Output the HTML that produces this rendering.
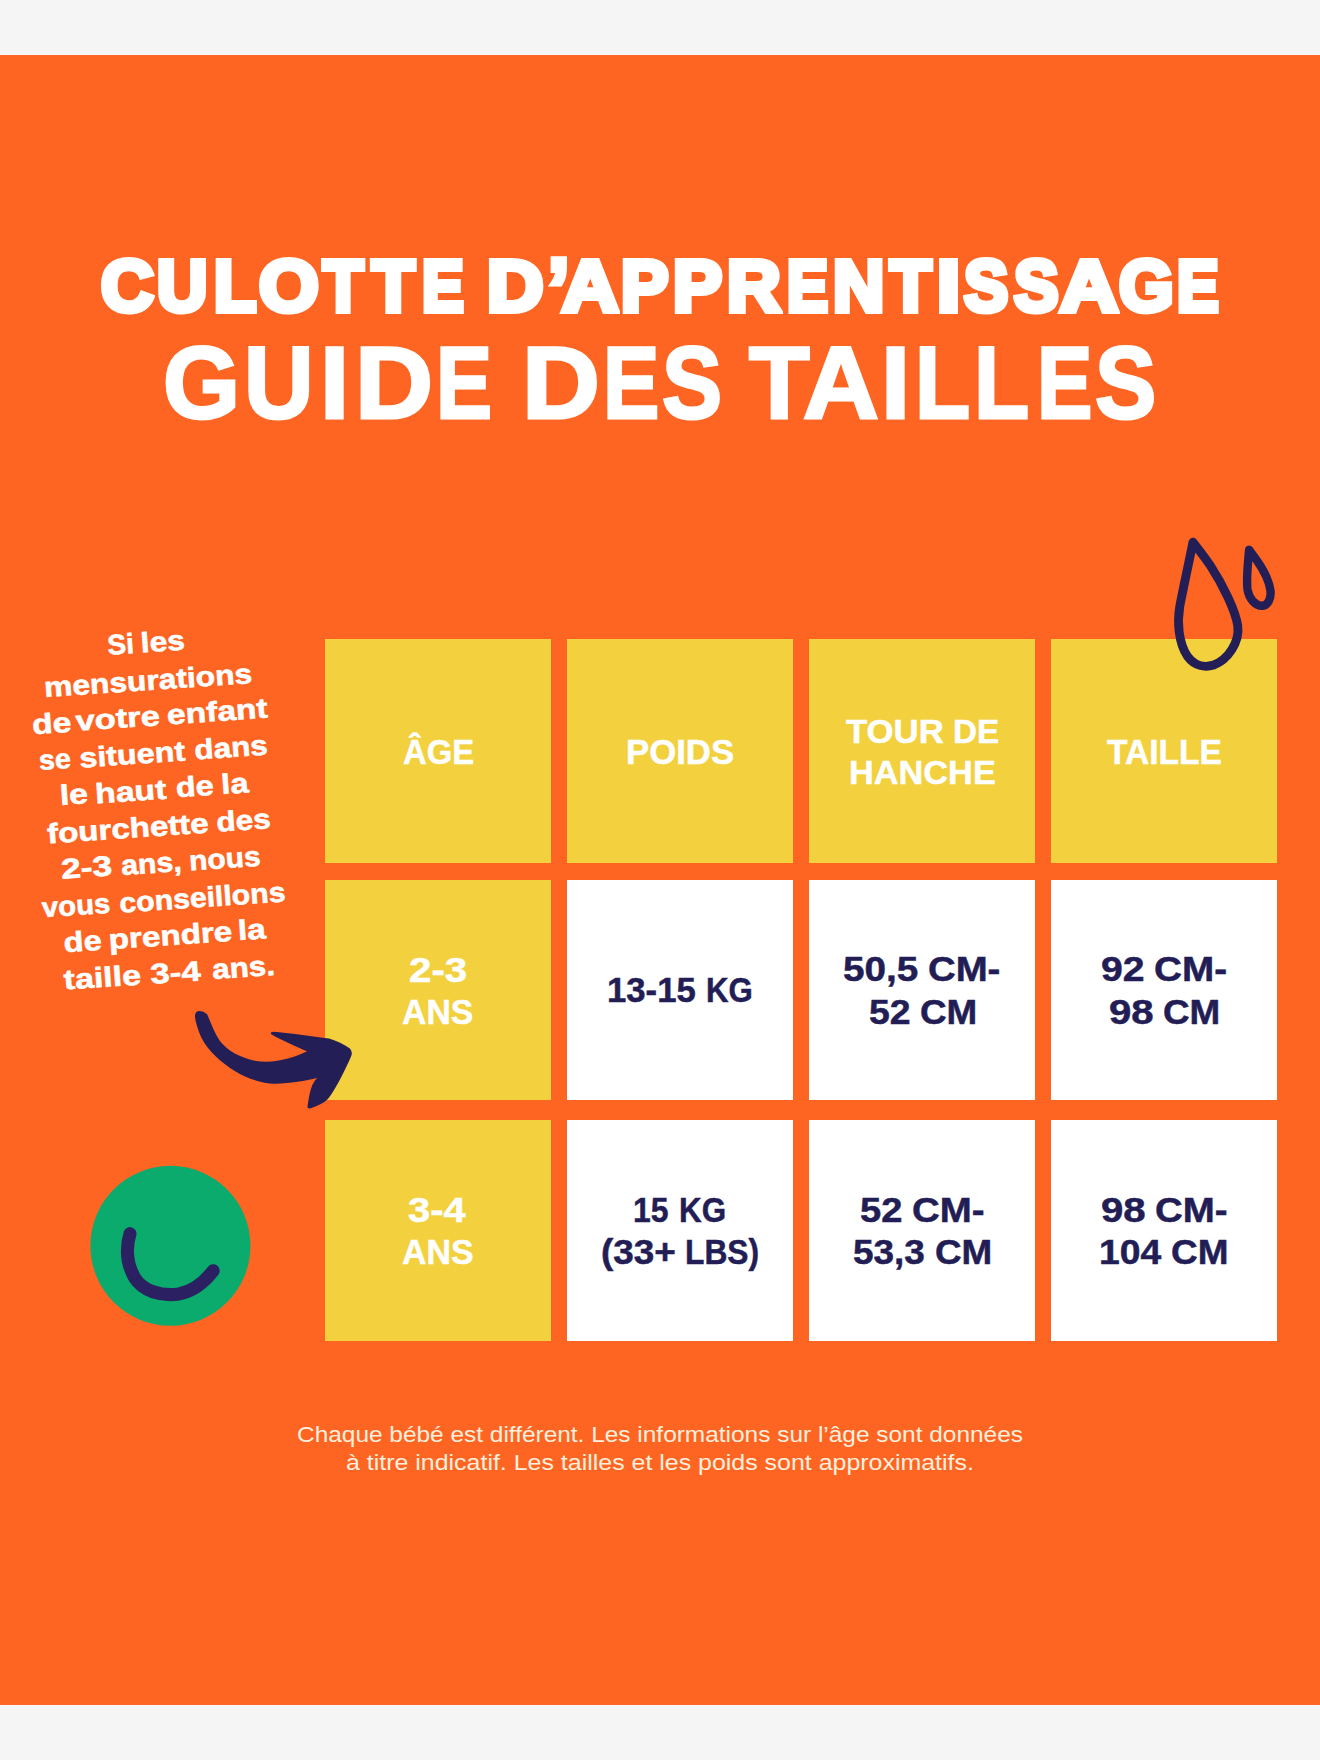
<!DOCTYPE html>
<html lang="fr">
<head>
<meta charset="utf-8">
<title>Culotte d’apprentissage – Guide des tailles</title>
<style>
  html,body{margin:0;padding:0;}
  body{width:1320px;height:1760px;background:#f5f5f5;overflow:hidden;font-family:"Liberation Sans",sans-serif;}
  #page{position:relative;width:1320px;height:1760px;overflow:hidden;background:#f5f5f5;}
  #poster{position:absolute;left:0;top:55px;width:1320px;height:1650px;background:#fe6523;}
  .t{position:absolute;white-space:nowrap;line-height:1em;font-weight:bold;transform-origin:0 0;font-family:"Liberation Sans",sans-serif;}
  .w{color:#fff;}
  .n{color:#221e55;}
  .s1{-webkit-text-stroke:6px #fff;paint-order:stroke fill;}
  .s2{-webkit-text-stroke:3px #fff;paint-order:stroke fill;}
  .w.st{-webkit-text-stroke:0.5px #fff;}
  .n.st{-webkit-text-stroke:0.5px #221e55;}
  .ss{-webkit-text-stroke:0.6px #fff;}
  .f{color:#fff0de;font-weight:normal;}
  .cell{position:absolute;width:226px;}
  .y{background:#f3d03e;}
  .wh{background:#fff;}
  .r1{top:638.6px;height:224.6px;}
  .r2{top:879.6px;height:220.6px;}
  .r3{top:1119.6px;height:221.2px;}
  .c1{left:325px;} .c2{left:567px;} .c3{left:809px;} .c4{left:1051.2px;}
  svg{position:absolute;left:0;top:0;}
</style>
</head>
<body>
<div id="page">
<div id="poster"></div>

<!-- table cells -->
<div class="cell y r1 c1"></div><div class="cell y r1 c2"></div><div class="cell y r1 c3"></div><div class="cell y r1 c4"></div>
<div class="cell y r2 c1"></div><div class="cell wh r2 c2"></div><div class="cell wh r2 c3"></div><div class="cell wh r2 c4"></div>
<div class="cell y r3 c1"></div><div class="cell wh r3 c2"></div><div class="cell wh r3 c3"></div><div class="cell wh r3 c4"></div>

<!-- title -->
<div class="title">
<span class="t w s1" style="left:100.83px;top:251px;font-size:71.80px;transform:scaleX(1.0151);">C</span>
<span class="t w s1" style="left:157.39px;top:251px;font-size:71.80px;transform:scaleX(0.9706);">U</span>
<span class="t w s1" style="left:213.81px;top:251px;font-size:71.80px;transform:scaleX(0.9633);">L</span>
<span class="t w s1" style="left:259.23px;top:251px;font-size:71.80px;transform:scaleX(1.0679);">O</span>
<span class="t w s1" style="left:323.17px;top:251px;font-size:71.80px;transform:scaleX(0.9178);">T</span>
<span class="t w s1" style="left:371.99px;top:251px;font-size:71.80px;transform:scaleX(0.9716);">T</span>
<span class="t w s1" style="left:421.68px;top:251px;font-size:71.80px;transform:scaleX(0.8712);">E</span>
 
<span class="t w s1" style="left:487.20px;top:251px;font-size:71.80px;transform:scaleX(1.0873);">D</span>
<span class="t w s1" style="left:548.00px;top:247px;font-size:84.96px;transform:scaleX(0.9103);">’</span>
<span class="t w s1" style="left:562.06px;top:251px;font-size:71.80px;transform:scaleX(1.0894);">A</span>
<span class="t w s1" style="left:621.47px;top:251px;font-size:71.80px;transform:scaleX(0.9904);">P</span>
<span class="t w s1" style="left:673.41px;top:251px;font-size:71.80px;transform:scaleX(1.0225);">P</span>
<span class="t w s1" style="left:726.79px;top:251px;font-size:71.80px;transform:scaleX(1.0344);">R</span>
<span class="t w s1" style="left:787.40px;top:251px;font-size:71.80px;transform:scaleX(0.8561);">E</span>
<span class="t w s1" style="left:833.27px;top:251px;font-size:71.80px;transform:scaleX(0.9886);">N</span>
<span class="t w s1" style="left:890.22px;top:251px;font-size:71.80px;transform:scaleX(0.9406);">T</span>
<span class="t w s1" style="left:937.07px;top:251px;font-size:71.80px;transform:scaleX(1.1576);">I</span>
<span class="t w s1" style="left:963.72px;top:251px;font-size:71.80px;transform:scaleX(0.9221);">S</span>
<span class="t w s1" style="left:1013.63px;top:251px;font-size:71.80px;transform:scaleX(0.9282);">S</span>
<span class="t w s1" style="left:1059.70px;top:251px;font-size:71.80px;transform:scaleX(1.1207);">A</span>
<span class="t w s1" style="left:1119.22px;top:251px;font-size:71.80px;transform:scaleX(0.9761);">G</span>
<span class="t w s1" style="left:1176.78px;top:251px;font-size:71.80px;transform:scaleX(0.8690);">E</span>
</div>
<div class="title">
<span class="t w s2" style="left:163.46px;top:332px;font-size:102.47px;transform:scaleX(0.9661);">G</span>
<span class="t w s2" style="left:244.26px;top:332px;font-size:102.47px;transform:scaleX(0.9390);">U</span>
<span class="t w s2" style="left:319.63px;top:332px;font-size:102.47px;transform:scaleX(1.0238);">I</span>
<span class="t w s2" style="left:354.86px;top:332px;font-size:102.47px;transform:scaleX(1.0545);">D</span>
<span class="t w s2" style="left:436.00px;top:332px;font-size:102.47px;transform:scaleX(0.8198);">E</span>
 
<span class="t w s2" style="left:521.77px;top:332px;font-size:102.47px;transform:scaleX(1.0530);">D</span>
<span class="t w s2" style="left:603.38px;top:332px;font-size:102.47px;transform:scaleX(0.8231);">E</span>
<span class="t w s2" style="left:662.39px;top:332px;font-size:102.47px;transform:scaleX(0.8791);">S</span>
 
<span class="t w s2" style="left:749.06px;top:332px;font-size:102.47px;transform:scaleX(0.9685);">T</span>
<span class="t w s2" style="left:803.08px;top:332px;font-size:102.47px;transform:scaleX(1.0240);">A</span>
<span class="t w s2" style="left:880.53px;top:332px;font-size:102.47px;transform:scaleX(1.0238);">I</span>
<span class="t w s2" style="left:915.38px;top:332px;font-size:102.47px;transform:scaleX(0.8807);">L</span>
<span class="t w s2" style="left:973.98px;top:332px;font-size:102.47px;transform:scaleX(0.8807);">L</span>
<span class="t w s2" style="left:1037.05px;top:332px;font-size:102.47px;transform:scaleX(0.8099);">E</span>
<span class="t w s2" style="left:1095.47px;top:332px;font-size:102.47px;transform:scaleX(0.8961);">S</span>
</div>

<!-- table text -->
<span class="t w st" style="left:402.52px;top:735px;font-size:34.45px;transform:scaleX(0.9532);">ÂGE</span>
<span class="t w st" style="left:625.98px;top:735px;font-size:34.45px;transform:scaleX(1.0091);">POIDS</span>
<span class="t w st" style="left:846.47px;top:714px;font-size:34.01px;transform:scaleX(1.0208);">TOUR</span>
<span class="t w st" style="left:952.95px;top:714px;font-size:34.01px;transform:scaleX(0.9763);">DE</span>
<span class="t w st" style="left:849.38px;top:755px;font-size:34.01px;transform:scaleX(1.0091);">HANCHE</span>
<span class="t w st" style="left:1107.08px;top:735px;font-size:34.45px;transform:scaleX(0.9737);">TAILLE</span>
<span class="t w st" style="left:408.69px;top:953px;font-size:34.74px;transform:scaleX(1.1597);">2-3</span>
<span class="t w st" style="left:402.09px;top:995px;font-size:34.88px;transform:scaleX(0.9681);">ANS</span>
<span class="t n st" style="left:606.91px;top:973px;font-size:34.45px;transform:scaleX(1.0079);">13-15</span>
<span class="t n st" style="left:705.59px;top:973px;font-size:34.45px;transform:scaleX(0.9065);">KG</span>
<span class="t n st" style="left:843.26px;top:952px;font-size:34.45px;transform:scaleX(1.1230);">50,5</span>
<span class="t n st" style="left:928.05px;top:952px;font-size:34.45px;transform:scaleX(1.1133);">CM-</span>
<span class="t n st" style="left:868.79px;top:995px;font-size:34.45px;transform:scaleX(1.0849);">52</span>
<span class="t n st" style="left:919.50px;top:995px;font-size:34.45px;transform:scaleX(1.0693);">CM</span>
<span class="t n st" style="left:1101.40px;top:952px;font-size:34.45px;transform:scaleX(1.1381);">92</span>
<span class="t n st" style="left:1153.64px;top:952px;font-size:34.45px;transform:scaleX(1.1229);">CM-</span>
<span class="t n st" style="left:1108.98px;top:995px;font-size:34.45px;transform:scaleX(1.1646);">98</span>
<span class="t n st" style="left:1163.10px;top:995px;font-size:34.45px;transform:scaleX(1.0693);">CM</span>
<span class="t w st" style="left:408.03px;top:1193px;font-size:34.74px;transform:scaleX(1.1489);">3-4</span>
<span class="t w st" style="left:402.29px;top:1235px;font-size:34.88px;transform:scaleX(0.9722);">ANS</span>
<span class="t n st" style="left:633.36px;top:1193px;font-size:34.45px;transform:scaleX(0.9259);">15</span>
<span class="t n st" style="left:678.88px;top:1193px;font-size:34.45px;transform:scaleX(0.9107);">KG</span>
<span class="t n st" style="left:600.53px;top:1235px;font-size:34.45px;transform:scaleX(1.0716);">(33+</span>
<span class="t n st" style="left:685.06px;top:1235px;font-size:34.45px;transform:scaleX(0.9221);">LBS)</span>
<span class="t n st" style="left:860.07px;top:1193px;font-size:34.45px;transform:scaleX(1.1068);">52</span>
<span class="t n st" style="left:911.55px;top:1193px;font-size:34.45px;transform:scaleX(1.1149);">CM-</span>
<span class="t n st" style="left:853.40px;top:1235px;font-size:34.45px;transform:scaleX(1.0723);">53,3</span>
<span class="t n st" style="left:934.60px;top:1235px;font-size:34.45px;transform:scaleX(1.0693);">CM</span>
<span class="t n st" style="left:1100.98px;top:1193px;font-size:34.45px;transform:scaleX(1.1673);">98</span>
<span class="t n st" style="left:1154.85px;top:1193px;font-size:34.45px;transform:scaleX(1.1149);">CM-</span>
<span class="t n st" style="left:1098.87px;top:1235px;font-size:34.45px;transform:scaleX(1.0828);">104</span>
<span class="t n st" style="left:1171.29px;top:1235px;font-size:34.45px;transform:scaleX(1.0713);">CM</span>

<!-- side note -->
<span class="t w ss" style="left:107.58px;top:630.88px;font-size:28.00px;transform-origin:12.62px 23.71px;transform:rotate(-3.90deg) scaleX(1.0044);">Si</span>
<span class="t w ss" style="left:143.82px;top:627.91px;font-size:28.00px;transform-origin:19.88px 23.71px;transform:rotate(-3.90deg) scaleX(1.1338);">les</span>
<span class="t w ss" style="left:56.72px;top:666.59px;font-size:28.00px;transform-origin:92.12px 23.71px;transform:rotate(-3.90deg) scaleX(1.1347);">mensurations</span>
<span class="t w ss" style="left:35.76px;top:709.60px;font-size:28.00px;transform-origin:16.44px 23.71px;transform:rotate(-3.90deg) scaleX(1.2005);">de</span>
<span class="t w ss" style="left:84.35px;top:705.11px;font-size:28.00px;transform-origin:33.75px 23.71px;transform:rotate(-3.90deg) scaleX(1.2334);">votre</span>
<span class="t w ss" style="left:176.04px;top:698.27px;font-size:28.00px;transform-origin:42.31px 23.71px;transform:rotate(-3.90deg) scaleX(1.2007);">enfant</span>
<span class="t w ss" style="left:39.99px;top:746.00px;font-size:28.00px;transform-origin:15.56px 23.71px;transform:rotate(-3.90deg) scaleX(1.0266);">se</span>
<span class="t w ss" style="left:86.81px;top:740.72px;font-size:28.00px;transform-origin:46.19px 23.71px;transform:rotate(-3.90deg) scaleX(1.1537);">situent</span>
<span class="t w ss" style="left:198.96px;top:733.99px;font-size:28.00px;transform-origin:32.69px 23.71px;transform:rotate(-3.90deg) scaleX(1.1215);">dans</span>
<span class="t w ss" style="left:63.12px;top:781.38px;font-size:28.00px;transform-origin:12.12px 23.71px;transform:rotate(-3.90deg) scaleX(1.2018);">le</span>
<span class="t w ss" style="left:101.59px;top:777.52px;font-size:28.00px;transform-origin:30.31px 23.71px;transform:rotate(-3.90deg) scaleX(1.2033);">haut</span>
<span class="t w ss" style="left:178.56px;top:773.22px;font-size:28.00px;transform-origin:16.44px 23.71px;transform:rotate(-3.90deg) scaleX(1.1556);">de</span>
<span class="t w ss" style="left:223.86px;top:770.39px;font-size:28.00px;transform-origin:12.69px 23.71px;transform:rotate(-3.90deg) scaleX(1.1681);">la</span>
<span class="t w ss" style="left:60.21px;top:815.11px;font-size:28.00px;transform-origin:68.19px 23.71px;transform:rotate(-3.90deg) scaleX(1.1831);">fourchette</span>
<span class="t w ss" style="left:220.28px;top:807.20px;font-size:28.00px;transform-origin:24.12px 23.71px;transform:rotate(-3.90deg) scaleX(1.1228);">des</span>
<span class="t w ss" style="left:67.36px;top:854.13px;font-size:28.00px;transform-origin:20.19px 23.71px;transform:rotate(-3.90deg) scaleX(1.2649);">2-3</span>
<span class="t w ss" style="left:123.50px;top:849.81px;font-size:28.00px;transform-origin:27.50px 23.71px;transform:rotate(-3.90deg) scaleX(1.0820);">ans,</span>
<span class="t w ss" style="left:192.10px;top:844.71px;font-size:28.00px;transform-origin:33.75px 23.71px;transform:rotate(-3.90deg) scaleX(1.0690);">nous</span>
<span class="t w ss" style="left:44.22px;top:892.16px;font-size:28.00px;transform-origin:32.12px 23.71px;transform:rotate(-3.90deg) scaleX(1.0464);">vous</span>
<span class="t w ss" style="left:126.00px;top:883.53px;font-size:28.00px;transform-origin:77.00px 23.71px;transform:rotate(-3.90deg) scaleX(1.0798);">conseillons</span>
<span class="t w ss" style="left:67.16px;top:927.92px;font-size:28.00px;transform-origin:16.44px 23.71px;transform:rotate(-3.90deg) scaleX(1.1620);">de</span>
<span class="t w ss" style="left:119.15px;top:921.92px;font-size:28.00px;transform-origin:52.50px 23.71px;transform:rotate(-3.90deg) scaleX(1.1869);">prendre</span>
<span class="t w ss" style="left:241.16px;top:916.31px;font-size:28.00px;transform-origin:12.69px 23.71px;transform:rotate(-3.90deg) scaleX(1.1951);">la</span>
<span class="t w ss" style="left:71.14px;top:963.90px;font-size:28.00px;transform-origin:31.56px 23.71px;transform:rotate(-3.90deg) scaleX(1.2112);">taille</span>
<span class="t w ss" style="left:155.95px;top:958.87px;font-size:28.00px;transform-origin:20.50px 23.71px;transform:rotate(-3.90deg) scaleX(1.2395);">3-4</span>
<span class="t w ss" style="left:215.71px;top:954.32px;font-size:28.00px;transform-origin:27.44px 23.71px;transform:rotate(-3.90deg) scaleX(1.1198);">ans.</span>

<!-- footnote -->
<span class="t f" style="left:296.58px;top:1424px;font-size:22.53px;transform:scaleX(1.0847);">Chaque bébé est différent. Les informations sur l’âge sont données</span>
<span class="t f" style="left:346.23px;top:1452px;font-size:22.53px;transform:scaleX(1.1076);">à titre indicatif. Les tailles et les poids sont approximatifs.</span>

<!-- decorations -->
<svg width="1320" height="1760" viewBox="0 0 1320 1760">
  <!-- green smiley -->
  <circle cx="170.4" cy="1245.8" r="80" fill="#0aab6c"/>
  <g transform="translate(70,1150) scale(0.151515)">
    <path d="M396 552 C370 640 372 745 425 840 C480 930 600 968 720 950 C820 930 895 862 945 797" fill="none" stroke="#2a2062" stroke-width="86" stroke-linecap="round" stroke-linejoin="round"/>
  </g>
  <!-- water drops -->
  <g transform="translate(1150,520) scale(0.113636)" fill="none" stroke="#231f56" stroke-width="78" stroke-linejoin="round" stroke-linecap="round">
    <path d="M378 195 C350 340 292 600 262 760 C238 900 250 1080 330 1200 C390 1282 480 1302 560 1276 C680 1232 792 1080 772 930 C750 790 640 570 530 400 C470 310 420 250 378 195 Z"/>
    <path d="M872 262 C862 380 846 520 858 610 C872 695 925 752 988 756 C1040 748 1068 690 1060 620 C1047 530 1000 440 940 355 C915 320 892 290 872 262 Z" stroke-width="74"/>
  </g>
  <!-- arrow -->
  <g transform="translate(170,990) scale(0.151515)" fill="#231f56">
    <path d="M245 160 C270 218 294 284 326 332 C376 402 470 449 560 467 C680 490 810 452 905 405 C840 376 740 335 668 292 Q658 276 682 275 C780 282 940 305 1050 320 C1100 335 1150 360 1185 385 Q1206 402 1198 430 C1170 500 1100 640 1050 710 C1030 738 990 760 930 780 Q904 786 908 768 C914 720 925 660 940 625 Q952 600 970 580 C900 598 790 615 700 618 C612 621 505 582 430 536 C340 482 250 400 210 320 C185 265 170 215 165 180 C163 160 170 146 182 141 Q212 132 245 160 Z"/>
  </g>
</svg>
</div>
</body>
</html>
